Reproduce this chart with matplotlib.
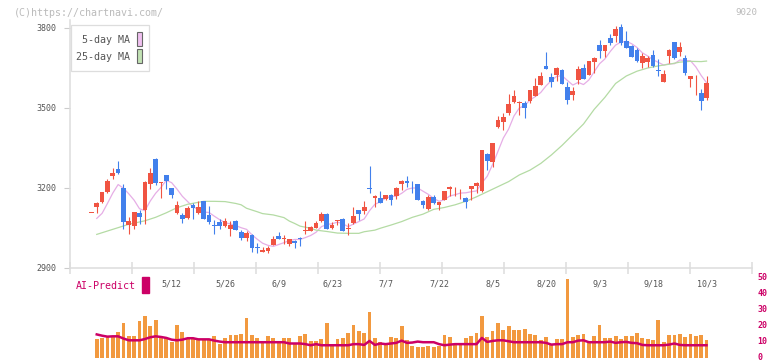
import numpy as np
import matplotlib
matplotlib.use("Agg")
import matplotlib.pyplot as plt
import matplotlib.transforms as mtransforms
from matplotlib.patches import Rectangle

W, H = 772, 361

# daily candles (index 0 .. 115), prices in yen
opens = [3106, 3130, 3149, 3186, 3246, 3271, 3200, 3061, 3059, 3106,
         3117, 3216, 3309, 3220, 3249, 3200, 3106, 3099, 3087, 3136,
         3106, 3151, 3099, 3062, 3072, 3059, 3047, 3076, 3035, 3014,
         3024, 2977, 2961, 2965, 2986, 3020, 3010, 2991, 3002, 3012,
         3040, 3040, 3050, 3076, 3102, 3050, 3078, 3085, 3048, 3070,
         3117, 3115, 3199, 3162, 3162, 3159, 3174, 3170, 3215, 3226,
         3204, 3215, 3151, 3121, 3166, 3136, 3155, 3196, 3187, 3176,
         3162, 3196, 3209, 3190, 3327, 3299, 3430, 3449, 3481, 3522,
         3519, 3519, 3526, 3545, 3587, 3657, 3616, 3624, 3642, 3579,
         3549, 3605, 3650, 3624, 3674, 3736, 3715, 3762, 3771, 3804,
         3751, 3732, 3717, 3669, 3673, 3699, 3642, 3597, 3695, 3747,
         3710, 3687, 3609, 3600, 3556, 3537]
highs = [3107, 3149, 3186, 3232, 3275, 3301, 3216, 3091, 3110, 3117,
         3226, 3275, 3312, 3222, 3249, 3200, 3151, 3105, 3132, 3142,
         3151, 3151, 3132, 3080, 3084, 3087, 3076, 3080, 3042, 3039,
         3027, 2994, 2979, 2984, 3020, 3035, 3024, 3009, 3006, 3016,
         3076, 3057, 3076, 3110, 3106, 3072, 3080, 3089, 3070, 3129,
         3117, 3151, 3282, 3174, 3189, 3174, 3177, 3204, 3230, 3245,
         3226, 3215, 3155, 3174, 3174, 3147, 3189, 3207, 3204, 3195,
         3166, 3209, 3222, 3342, 3332, 3369, 3470, 3481, 3552, 3567,
         3526, 3526, 3567, 3612, 3635, 3710, 3631, 3654, 3646, 3597,
         3579, 3657, 3665, 3675, 3690, 3755, 3736, 3777, 3807, 3815,
         3789, 3736, 3725, 3706, 3695, 3717, 3684, 3642, 3721, 3747,
         3747, 3699, 3620, 3624, 3571, 3620]
lows = [3106, 3105, 3142, 3180, 3235, 3252, 3047, 3029, 3047, 3064,
        3064, 3197, 3212, 3164, 3196, 3164, 3104, 3070, 3084, 3084,
        3104, 3085, 3065, 3029, 3046, 3055, 3021, 3044, 3006, 3002,
        2961, 2957, 2961, 2957, 2986, 3009, 2990, 2984, 2976, 2984,
        3027, 3040, 3050, 3072, 3046, 3046, 3061, 3040, 3025, 3065,
        3081, 3104, 3180, 3129, 3144, 3155, 3136, 3159, 3192, 3204,
        3181, 3155, 3125, 3117, 3140, 3117, 3155, 3170, 3170, 3157,
        3126, 3155, 3180, 3186, 3267, 3280, 3426, 3417, 3474, 3517,
        3474, 3464, 3520, 3545, 3587, 3647, 3579, 3601, 3590, 3515,
        3530, 3590, 3609, 3624, 3632, 3686, 3690, 3736, 3749, 3736,
        3726, 3691, 3672, 3650, 3654, 3654, 3620, 3597, 3669, 3684,
        3695, 3624, 3579, 3549, 3492, 3530]
closes = [3107, 3142, 3185, 3226, 3256, 3256, 3074, 3076, 3110, 3092,
          3222, 3256, 3220, 3222, 3226, 3174, 3136, 3085, 3125, 3126,
          3129, 3085, 3074, 3057, 3059, 3076, 3061, 3044, 3014, 3031,
          2976, 2975, 2969, 2976, 3009, 3009, 3012, 3009, 2995, 3010,
          3042, 3054, 3069, 3102, 3046, 3061, 3080, 3040, 3050, 3095,
          3104, 3129, 3195, 3170, 3144, 3174, 3155, 3200, 3226, 3219,
          3202, 3155, 3136, 3166, 3144, 3147, 3189, 3204, 3189, 3178,
          3149, 3209, 3219, 3342, 3302, 3369, 3455, 3466, 3515, 3545,
          3521, 3500, 3567, 3582, 3620, 3647, 3597, 3650, 3590, 3530,
          3564, 3646, 3609, 3675, 3687, 3715, 3736, 3745, 3796, 3745,
          3726, 3691, 3676, 3695, 3688, 3657, 3640, 3627, 3717, 3687,
          3729, 3631, 3620, 3602, 3527, 3594]

# 5-day moving average, candles 1 .. 115
ma5 = [3086, 3105, 3142, 3181, 3213, 3199, 3178, 3154, 3122, 3115,
       3151, 3180, 3202, 3229, 3220, 3196, 3169, 3149, 3129, 3120,
       3110, 3108, 3094, 3081, 3070, 3065, 3059, 3051, 3045, 3025,
       3008, 2993, 2985, 2981, 2988, 2995, 3003, 3007, 3007, 3014,
       3022, 3034, 3055, 3063, 3066, 3072, 3066, 3055, 3065, 3074,
       3084, 3115, 3139, 3148, 3162, 3168, 3169, 3180, 3195, 3200,
       3200, 3188, 3176, 3161, 3150, 3156, 3170, 3175, 3181, 3182,
       3186, 3189, 3219, 3244, 3288, 3337, 3387, 3421, 3470, 3500,
       3509, 3530, 3543, 3558, 3583, 3603, 3619, 3621, 3603, 3586,
       3596, 3588, 3605, 3636, 3666, 3684, 3712, 3736, 3747, 3750,
       3741, 3727, 3707, 3695, 3681, 3671, 3661, 3666, 3666, 3680,
       3678, 3677, 3654, 3622, 3595]

# 25-day moving average, read at these candles
ma25_idx = [1, 4, 7, 10, 12, 14, 16, 18, 21, 23, 25, 27, 28, 29, 31, 32,
            34, 36, 37, 38, 39, 41, 42, 44, 46, 48, 50, 51, 53, 54, 56, 58,
            60, 62, 64, 66, 68, 70, 72, 74, 76, 78, 80, 82, 84, 86, 88, 90,
            92, 94, 96, 98, 100, 102, 104, 106, 108, 110, 112, 114, 115]
ma25 = [3026, 3045, 3064, 3077, 3090, 3107, 3126, 3139, 3150, 3150, 3149,
        3142, 3137, 3124, 3111, 3104, 3099, 3089, 3076, 3067, 3057, 3049,
        3042, 3037, 3031, 3030, 3030, 3036, 3042, 3049, 3061, 3074, 3090,
        3102, 3120, 3127, 3137, 3150, 3167, 3186, 3205, 3224, 3249, 3267,
        3292, 3324, 3360, 3400, 3440, 3495, 3540, 3592, 3620, 3638, 3650,
        3658, 3664, 3672, 3675, 3674, 3676]

# volume panel, candles 1 .. 115
volume = [11.7, 12.8, 13.2, 13.8, 16.1, 22.2, 13.6, 13.6, 22.9, 26.6,
          19.8, 24.1, 13.6, 12.8, 9.9, 20.4, 16.1, 12.4, 12.8, 12.0,
          12.0, 12.0, 13.6, 8.7, 12.4, 14.2, 14.2, 14.8, 25.3, 14.2,
          12.4, 9.9, 13.6, 12.4, 9.5, 12.4, 12.4, 8.7, 13.6, 14.8,
          10.5, 10.5, 11.7, 22.2, 7.8, 11.7, 12.4, 15.5, 20.4, 16.7,
          15.5, 29.0, 12.4, 9.9, 8.7, 13.0, 12.4, 19.8, 11.1, 7.4,
          6.8, 6.8, 7.4, 6.8, 7.4, 14.2, 13.0, 8.7, 8.7, 12.4,
          13.6, 15.5, 26.6, 13.0, 16.7, 22.2, 17.3, 19.8, 17.3, 17.3,
          18.5, 14.8, 14.2, 11.1, 13.0, 8.7, 11.7, 11.7, 49.5, 13.0,
          14.2, 14.8, 9.9, 13.6, 20.4, 12.4, 12.4, 13.6, 11.7, 13.6,
          13.6, 15.5, 12.4, 11.7, 11.1, 24.1, 9.9, 14.2, 14.2, 14.8,
          13.0, 14.8, 13.6, 14.2, 11.1]
ai_predict = [14.8, 14.0, 13.4, 13.6, 13.6, 12.2, 11.1, 11.1, 11.1, 11.9,
              13.0, 13.6, 13.2, 12.6, 11.5, 11.1, 11.5, 12.4, 12.4, 11.7,
              11.7, 11.7, 10.9, 10.3, 9.9, 9.9, 9.9, 9.9, 9.9, 9.9,
              9.9, 9.9, 9.9, 9.9, 9.9, 9.9, 9.1, 9.1, 9.1, 8.7,
              8.0, 8.7, 8.0, 8.0, 8.0, 8.0, 8.0, 8.0, 8.7, 8.7,
              8.2, 10.7, 8.2, 9.1, 8.7, 9.1, 9.5, 10.9, 9.5, 9.7,
              10.3, 9.9, 9.9, 9.9, 8.7, 8.0, 8.4, 8.7, 8.7, 8.7,
              8.7, 8.7, 12.6, 10.1, 10.7, 11.1, 11.1, 10.5, 9.9, 9.9,
              9.9, 9.9, 9.9, 9.9, 9.5, 8.4, 8.7, 8.7, 9.9, 9.9,
              10.9, 11.1, 9.9, 9.9, 9.9, 9.9, 10.3, 9.5, 9.9, 10.1,
              9.5, 9.3, 8.2, 8.0, 8.0, 8.0, 8.0, 8.4, 9.1, 8.2,
              8.0, 8.0, 8.0, 8.0, 8.0]

date_idx = [15, 25, 35, 45, 55, 65, 75, 85, 95, 105, 115]
date_labels = ["5/12", "5/26", "6/9", "6/23", "7/7", "7/22",
               "8/5", "8/20", "9/3", "9/18", "10/3"]
price_ticks = [2900, 3200, 3500, 3800]
vol_ticks = [0, 10, 20, 30, 40, 50]

UP, DOWN = "#f05442", "#4280ec"
MONO = "DejaVu Sans Mono"


def fx(x):
    return x / W


def fy(y):
    return 1 - y / H


fig = plt.figure(figsize=(W / 100, H / 100), dpi=100)
fig.patch.set_facecolor("white")

ax = fig.add_axes([fx(70), fy(268), 682 / W, 248 / H])
vax = fig.add_axes([fx(70), fy(358), 682 / W, 79.7 / H])
vax.patch.set_visible(False)

xlim = (-4.0, 123.5)

# moving averages behind the candles
idx = np.arange(len(closes))
ax.plot(idx[1:], ma5, color="#e6aee6", lw=0.9, zorder=1)
ax.plot(ma25_idx, ma25, color="#b4dba4", lw=0.9, zorder=1)

for i, (o, h, l, c) in enumerate(zip(opens, highs, lows, closes)):
    col = UP if c >= o else DOWN
    ax.vlines(i, l, h, color=col, lw=0.8, zorder=2)
    ax.bar(i, max(abs(c - o), 3), bottom=min(o, c), width=0.88,
           color=col, zorder=3)

ax.set_xlim(*xlim)
ax.set_ylim(2900, 3830)
for s in ["top", "right"]:
    ax.spines[s].set_visible(False)
for s in ["left", "bottom"]:
    ax.spines[s].set_color("#dddddd")
    ax.spines[s].set_linewidth(1.1)

ax.set_yticks(price_ticks)
ax.set_yticklabels([str(v) for v in price_ticks], fontfamily=MONO)
ax.tick_params(axis="y", direction="out", length=4, color="#cccccc",
               labelsize=6, labelcolor="#555555", pad=6)

ax.set_xticks(np.linspace(xlim[0], xlim[1], 12))
ax.tick_params(axis="x", which="major", direction="inout", length=8,
               color="#dddddd", width=1.1, labelbottom=False)
ax.set_xticks(date_idx, minor=True)
ax.set_xticklabels(date_labels, minor=True, fontfamily=MONO)
ax.tick_params(axis="x", which="minor", length=0, labelsize=6,
               labelcolor="#555555", pad=8)

# volume + AI-Predict
vidx = np.arange(1, len(closes))
vax.bar(vidx, volume, width=0.72, color="#f2993f", zorder=1)
vax.plot(vidx, ai_predict, color="#cc0066", lw=1.8, zorder=2)
vax.set_xlim(*xlim)
vax.set_ylim(0, 50)
for s in vax.spines.values():
    s.set_visible(False)
vax.set_xticks([])
vax.yaxis.tick_right()
vax.set_yticks(vol_ticks)
vax.set_yticklabels([str(v) for v in vol_ticks], fontfamily=MONO)
vax.tick_params(axis="y", length=0, labelsize=6, labelcolor="#cc0066",
                pad=4)
shift = mtransforms.ScaledTranslation(0, 1.2 / 72, fig.dpi_scale_trans)
for lab in vax.get_yticklabels():
    lab.set_transform(lab.get_transform() + shift)
    lab.set_fontweight("bold")

fig.text(fx(76), fy(286), "AI-Predict", fontfamily=MONO, fontsize=7.2,
         color="#cc0066", va="center", ha="left")
fig.patches.append(Rectangle((fx(142), fy(293)), 7 / W, 16 / H,
                             transform=fig.transFigure, color="#cc0066"))

# legend box
fig.patches.append(Rectangle((fx(70.5), fy(71)), 78 / W, 46.5 / H,
                             transform=fig.transFigure, facecolor="white",
                             edgecolor="#dddddd", lw=0.9, zorder=5))
for y0, lab, col in [(31.5, "5-day MA", "#f0c0f0"),
                     (48.5, "25-day MA", "#c2e2b4")]:
    fig.patches.append(Rectangle((fx(136.7), fy(y0 + 14.5)), 5.5 / W,
                                 14.5 / H, transform=fig.transFigure,
                                 facecolor=col, edgecolor="#666666",
                                 lw=0.8, zorder=6))
    fig.text(fx(130), fy(y0 + 8.5), lab, fontfamily=MONO, fontsize=7.2,
             color="#555555", ha="right", va="center", zorder=7)

fig.text(fx(14), fy(12.5), "(C)https://chartnavi.com/", fontfamily=MONO,
         fontsize=7.2, color="#bbbbbb", ha="left", va="center")
fig.text(fx(757), fy(12.5), "9020", fontfamily=MONO, fontsize=6.6,
         color="#bbbbbb", ha="right", va="center")

fig.savefig("out.png", dpi=100)
